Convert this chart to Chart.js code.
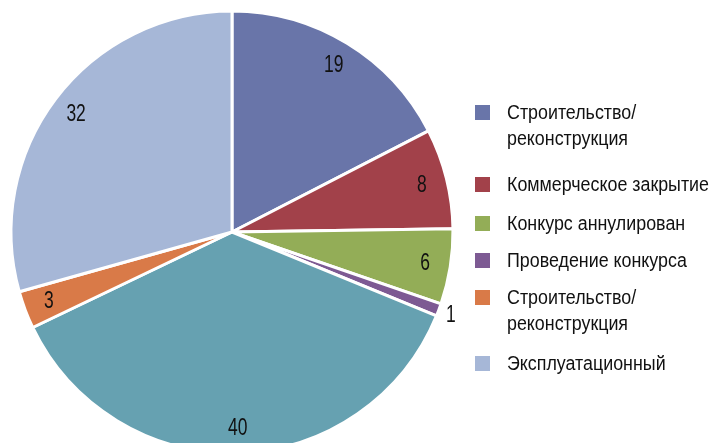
<!DOCTYPE html>
<html>
<head>
<meta charset="utf-8">
<script src="https://cdn.jsdelivr.net/npm/chart.js@4"></script>
<style>
  html, body { margin: 0; padding: 0; background: #fff; overflow: hidden; width: 710px; height: 443px; }
  #wrap { position: absolute; left: 0; top: 0; width: 710px; height: 464px; }
  #legend { position: absolute; left: 0; top: 0; font-family: "Liberation Sans", Arial, sans-serif; font-size: 20px; color: #111; }
  .item { position: absolute; left: 475px; white-space: nowrap; }
  .box { position: absolute; left: 0; width: 15px; height: 15px; }
  .txt { position: absolute; left: 32px; top: 0; line-height: 26px; transform-origin: 0 0; }
</style>
</head>
<body>
<div id="wrap"><canvas id="pie" width="710" height="464"></canvas></div>
<div id="legend"></div>
<script>
// slices clockwise from 12 o'clock
const labels = [
    "Строительство/\nреконструкция",
    "Коммерческое закрытие",
    "Конкурс аннулирован",
    "Проведение конкурса",
    "",
    "Строительство/\nреконструкция",
    "Эксплуатационный"
];
const values = [19, 8, 6, 1, 40, 3, 32];
const colors = ["#6975a9", "#a2414a", "#93ad57", "#7d5a93", "#66a1b1", "#d97a48", "#a6b7d7"];

// legend order (slice index) and vertical placement of each row
const legendOrder = [0, 1, 2, 3, 5, 6];
const legendTops = [99, 171, 210, 247, 284, 350];

// the original uses a condensed face; squeeze Liberation Sans to the same width
const mctx = document.createElement("canvas").getContext("2d");
mctx.font = '20px "Liberation Sans", Arial, sans-serif';
const squeeze = 202 / mctx.measureText("Коммерческое закрытие").width;

const legend = document.getElementById("legend");
legendOrder.forEach((idx, i) => {
    let item = document.createElement("div");
    item.className = "item";
    item.style.top = legendTops[i] + "px";
    let box = document.createElement("div");
    box.className = "box";
    box.style.background = colors[idx];
    box.style.top = "6px";
    let txt = document.createElement("div");
    txt.className = "txt";
    txt.style.transform = "scaleX(" + squeeze + ")";
    txt.innerHTML = labels[idx].replace("\n", "<br>");
    item.appendChild(box);
    item.appendChild(txt);
    legend.appendChild(item);
});

const sliceLabels = {
    id: "sliceLabels",
    afterDatasetsDraw(c) {
        const ctx = c.ctx;
        const meta = c.getDatasetMeta(0);
        const total = values.reduce((a, b) => a + b, 0);
        ctx.save();
        ctx.font = '23px "Liberation Sans", Arial, sans-serif';
        ctx.fillStyle = "#111";
        ctx.textAlign = "center";
        ctx.textBaseline = "middle";
        meta.data.forEach((arc, i) => {
            const mid = (arc.startAngle + arc.endAngle) / 2;
            const small = values[i] / total < 0.02;
            const r = small ? arc.outerRadius + 13 : arc.outerRadius * 0.885;
            ctx.save();
            ctx.translate(arc.x + Math.cos(mid) * r, arc.y + Math.sin(mid) * r);
            ctx.scale(0.76, 1);
            ctx.fillText(String(values[i]), 0, 1);
            ctx.restore();
        });
        ctx.restore();
    }
};

new Chart(document.getElementById("pie"), {
    type: "pie",
    data: {
        labels: labels,
        datasets: [{
            data: values,
            backgroundColor: colors,
            borderColor: "#fff",
            borderWidth: 3
        }]
    },
    options: {
        responsive: false,
        animation: false,
        radius: 221,
        layout: { padding: { left: 0, right: 246, top: 0, bottom: 0 } },
        plugins: { legend: { display: false }, tooltip: { enabled: false } }
    },
    plugins: [sliceLabels]
});
</script>
</body>
</html>
